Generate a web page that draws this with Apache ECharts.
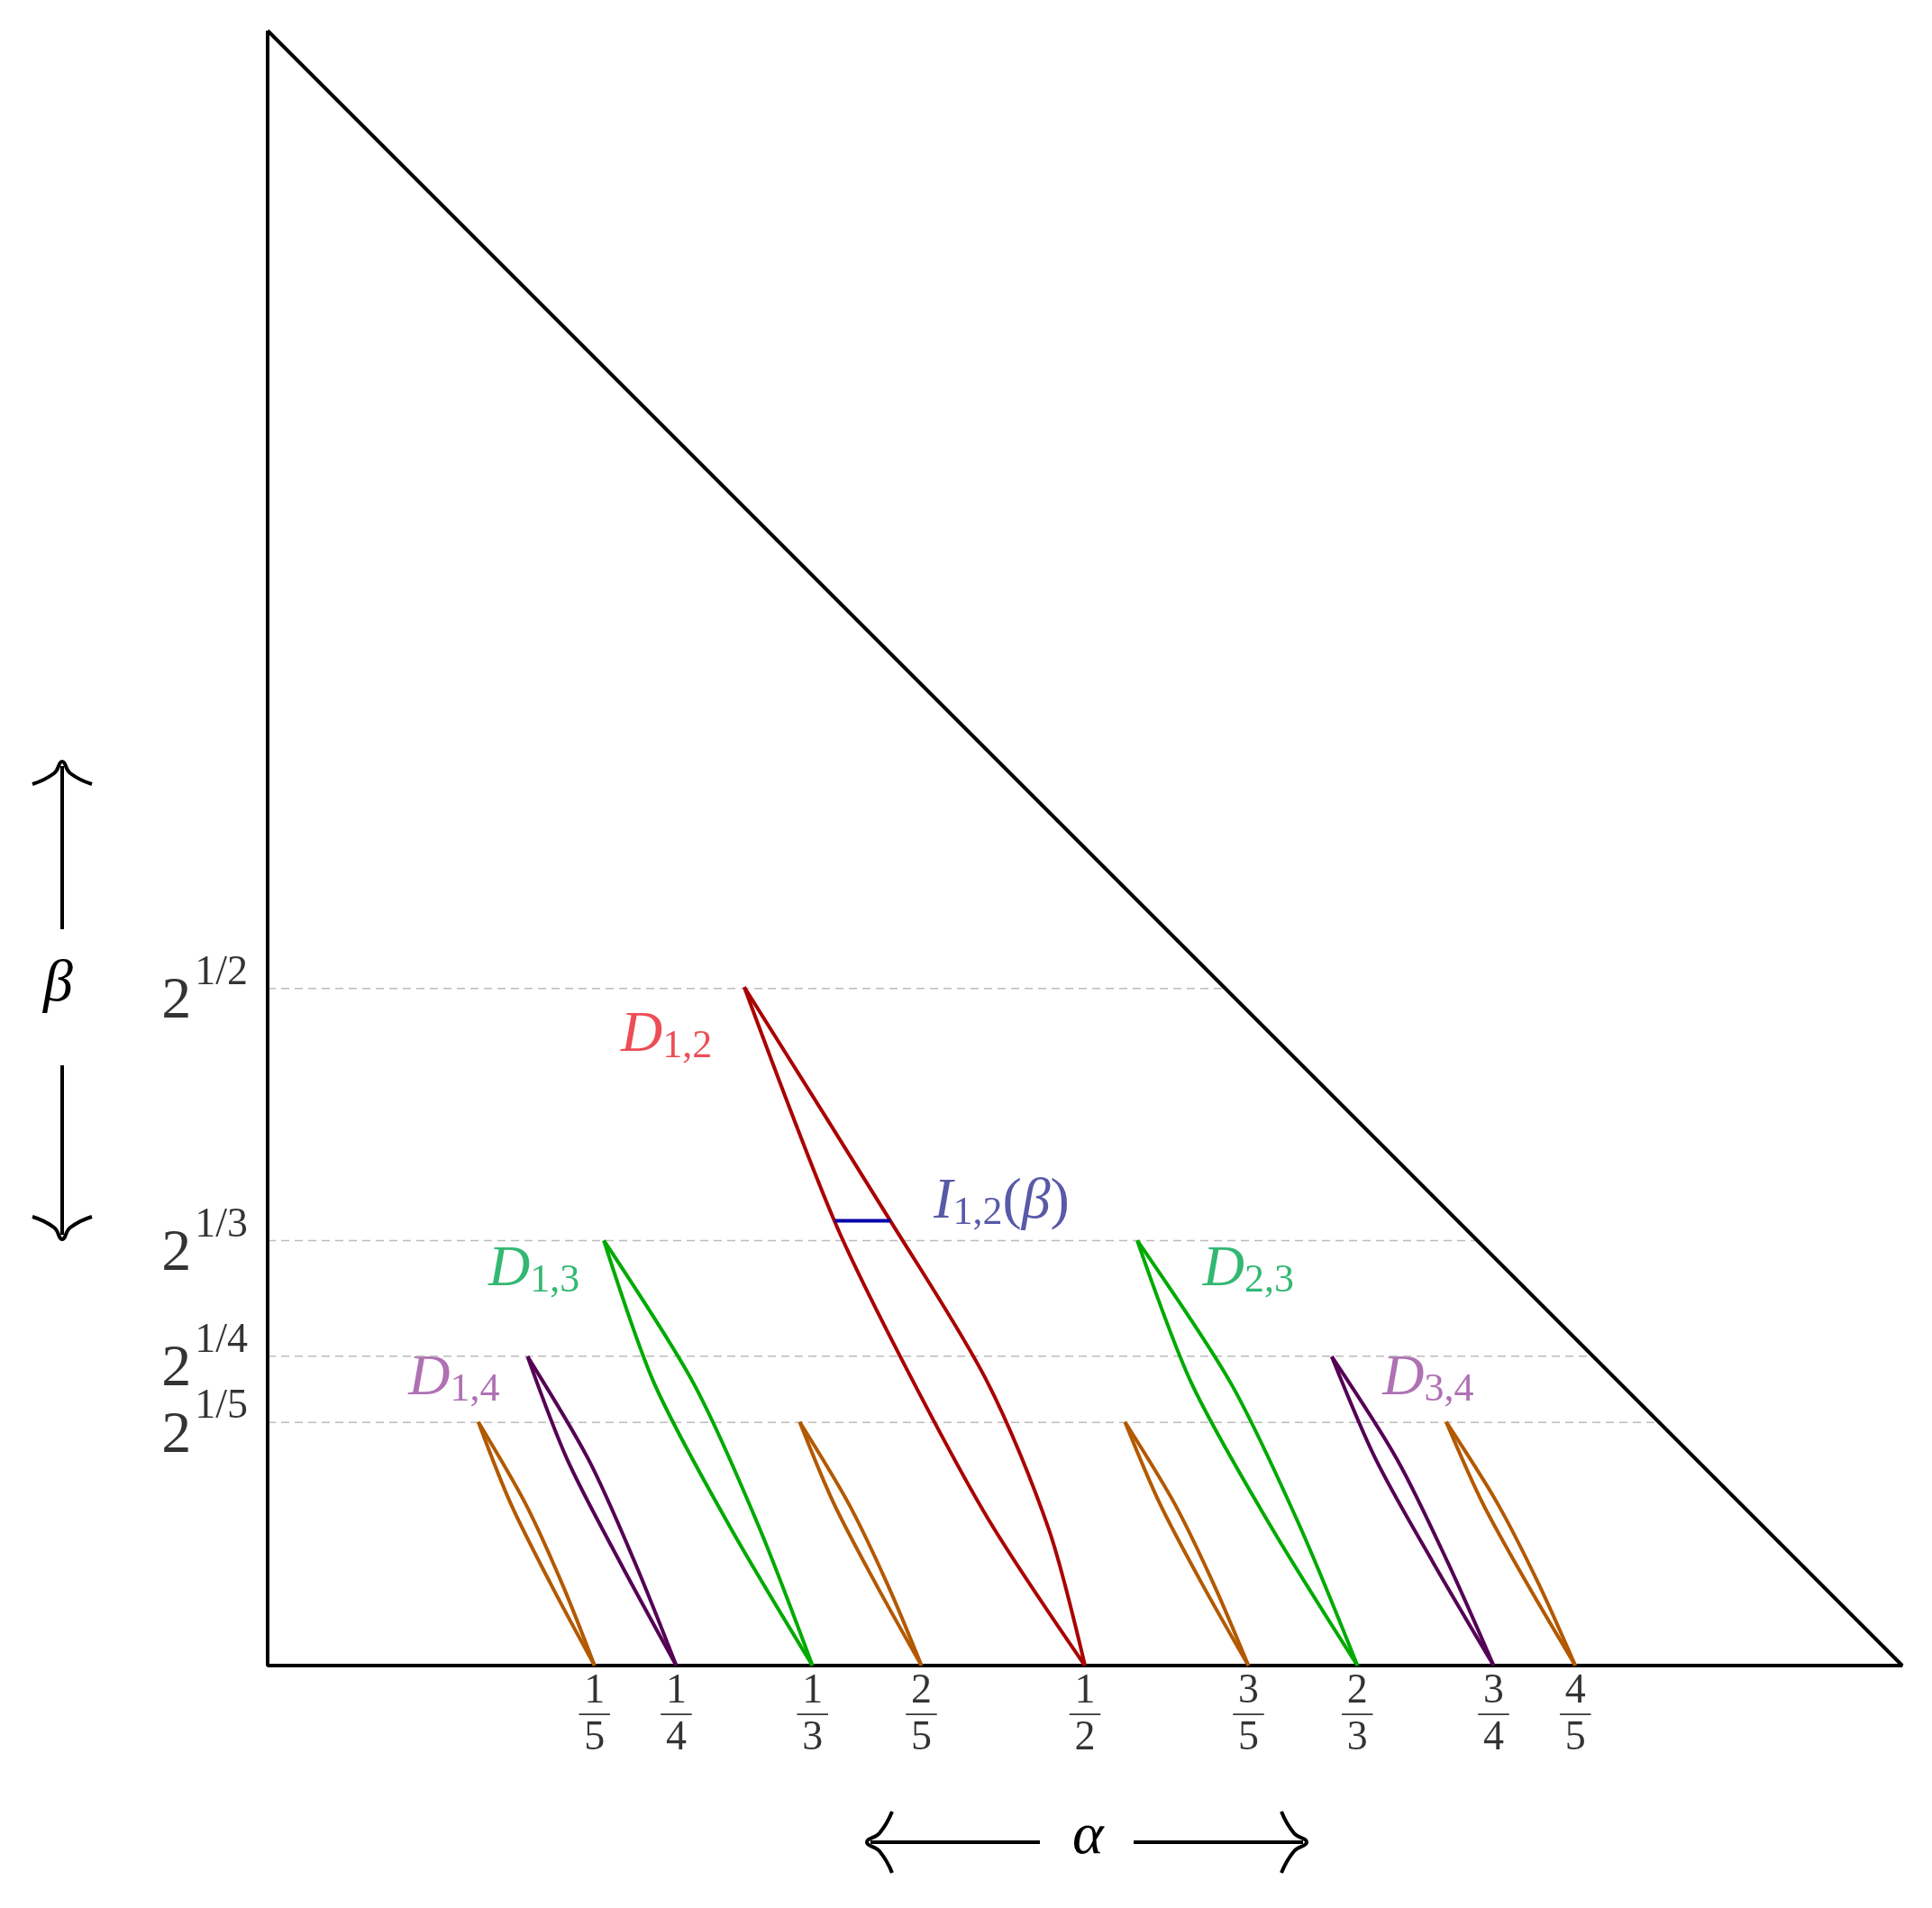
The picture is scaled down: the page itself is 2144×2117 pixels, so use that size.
<!DOCTYPE html>
<html>
<head>
<meta charset="utf-8">
<title>Lenses</title>
<script src="https://cdn.jsdelivr.net/npm/echarts@6/dist/echarts.min.js"></script>
<style>html,body{margin:0;padding:0;background:#fff}#main{width:2144px;height:2117px}</style>
</head>
<body>
<div id="main"></div>
<script>
// triangle outline
var triangle = [[0, 2], [0, 1], [1, 1], [0, 2]];
// dashed levels beta = 2^(1/q)
var levelBeta = [1.4142, 1.2599, 1.1892, 1.1487];
var levelText = ['1/2', '1/3', '1/4', '1/5'];
// x tick fractions
var fracNum = [1, 1, 1, 2, 1, 3, 2, 3, 4];
var fracDen = [5, 4, 3, 5, 2, 5, 3, 4, 5];
// lens curves [alpha, beta]
var lenses = [
  {color: '#aa0000',
   left: [[0.2916, 1.415], [0.3467, 1.272], [0.387, 1.189], [0.440, 1.091], [0.5, 1]],
   right: [[0.2916, 1.415], [0.381, 1.272], [0.440, 1.174], [0.478, 1.083], [0.5, 1]]},
  {color: '#00aa00',
   left: [[0.2057, 1.26], [0.2362, 1.1733], [0.2818, 1.0867], [0.3333, 1]],
   right: [[0.2057, 1.26], [0.2602, 1.1733], [0.2998, 1.0867], [0.3333, 1]]},
  {color: '#00aa00',
   left: [[0.532, 1.26], [0.5649, 1.1733], [0.6128, 1.0867], [0.6667, 1]],
   right: [[0.532, 1.26], [0.5889, 1.1733], [0.6308, 1.0867], [0.6667, 1]]},
  {color: '#550055',
   left: [[0.159, 1.189], [0.1833, 1.126], [0.2157, 1.063], [0.25, 1]],
   right: [[0.159, 1.189], [0.1963, 1.126], [0.2247, 1.063], [0.25, 1]]},
  {color: '#550055',
   left: [[0.651, 1.189], [0.678, 1.126], [0.713, 1.063], [0.75, 1]],
   right: [[0.651, 1.189], [0.691, 1.126], [0.722, 1.063], [0.75, 1]]},
  {color: '#b35900',
   left: [[0.1289, 1.149], [0.1486, 1.0993], [0.1733, 1.0497], [0.2, 1]],
   right: [[0.1289, 1.149], [0.1576, 1.0993], [0.1803, 1.0497], [0.2, 1]]},
  {color: '#b35900',
   left: [[0.3255, 1.149], [0.3463, 1.0993], [0.3722, 1.0497], [0.4, 1]],
   right: [[0.3255, 1.149], [0.3553, 1.0993], [0.3792, 1.0497], [0.4, 1]]},
  {color: '#b35900',
   left: [[0.5245, 1.149], [0.5457, 1.0993], [0.5718, 1.0497], [0.6, 1]],
   right: [[0.5245, 1.149], [0.5547, 1.0993], [0.5788, 1.0497], [0.6, 1]]},
  {color: '#b35900',
   left: [[0.721, 1.149], [0.7433, 1.0993], [0.7707, 1.0497], [0.8, 1]],
   right: [[0.721, 1.149], [0.7523, 1.0993], [0.7777, 1.0497], [0.8, 1]]}
];
// region labels
var regionLabels = [
  {pos: [0.244, 1.385], sub: '1,2', color: '#e8202a'},
  {pos: [0.163, 1.242], sub: '1,3', color: '#00a651'},
  {pos: [0.600, 1.242], sub: '2,3', color: '#00a651'},
  {pos: [0.114, 1.175], sub: '1,4', color: '#9b4ea0'},
  {pos: [0.710, 1.175], sub: '3,4', color: '#9b4ea0'}
];
var segI = [[0.347, 1.272], [0.381, 1.272]];

var serif = 'Liberation Serif';
var chart = echarts.init(document.getElementById('main'));
var series = [];

levelBeta.forEach(function (b) {
  series.push({type: 'line', data: [[0, b], [2 - b, b]], symbol: 'none', silent: true,
    lineStyle: {color: '#bbb', width: 1.5, type: [9, 6]}});
});
series.push({type: 'line', data: triangle, symbol: 'none',
  lineStyle: {color: '#000', width: 4}});
lenses.forEach(function (l) {
  ['left', 'right'].forEach(function (k) {
    series.push({type: 'line', data: l[k], smooth: 0.3, symbol: 'none',
      lineStyle: {color: l.color, width: 4}});
  });
});
series.push({type: 'line', data: segI, symbol: 'none', lineStyle: {color: '#0000aa', width: 4}});

// tick fractions
series.push({type: 'scatter', symbolSize: 0,
  data: fracNum.map(function (n, i) { return [n / fracDen[i], 1]; }),
  label: {show: true, position: 'bottom', distance: 10, color: '#000',
    formatter: function (p) {
      var i = p.dataIndex;
      return '{n|' + fracNum[i] + '}\n{l|—}\n{d|' + fracDen[i] + '}';
    },
    rich: {
      n: {fontFamily: serif, fontSize: 46, lineHeight: 38, color: '#000'},
      l: {fontFamily: serif, fontSize: 34, lineHeight: 10, color: '#000'},
      d: {fontFamily: serif, fontSize: 46, lineHeight: 46, color: '#000'}
    }}});
// beta tick labels
series.push({type: 'scatter', symbolSize: 0,
  data: levelBeta.map(function (b) { return [0, b]; }),
  label: {show: true, position: 'left', distance: 22, color: '#000',
    formatter: function (p) { return '{b|2}{s|' + levelText[p.dataIndex] + '}'; },
    rich: {
      b: {fontFamily: serif, fontSize: 66, color: '#000', padding: [30, 0, 0, 0]},
      s: {fontFamily: serif, fontSize: 46, color: '#000', padding: [0, 0, 34, 4]}
    }}});
// region labels
regionLabels.forEach(function (r) {
  series.push({type: 'scatter', symbolSize: 0, data: [r.pos],
    label: {show: true, position: 'inside', color: r.color,
      formatter: '{D|D}{s|' + r.sub + '}',
      rich: {
        D: {fontFamily: serif, fontStyle: 'italic', fontSize: 64, color: r.color},
        s: {fontFamily: serif, fontSize: 44, color: r.color, padding: [24, 0, 0, 0]}
      }}});
});
series.push({type: 'scatter', symbolSize: 0, data: [[0.449, 1.283]],
  label: {show: true, position: 'inside', color: '#2e3192',
    formatter: '{D|I}{s|1,2}{p|(}{D|β}{p|)}',
    rich: {
      D: {fontFamily: serif, fontStyle: 'italic', fontSize: 64, color: '#2e3192'},
      p: {fontFamily: serif, fontSize: 64, color: '#2e3192'},
      s: {fontFamily: serif, fontSize: 44, color: '#2e3192', padding: [24, 0, 0, 0]}
    }}});

var ah = {type: 'polyline', style: {fill: null, stroke: '#000', lineWidth: 4}};
function arrowHead(points) { return echarts.util.merge({shape: {points: points, smooth: 0.5}}, ah, true); }

chart.setOption({
  animation: false,
  grid: {left: 297, right: 33, top: 34, bottom: 269},
  xAxis: {type: 'value', min: 0, max: 1, show: false},
  yAxis: {type: 'value', min: 1, max: 2, show: false},
  series: series,
  graphic: [
    {type: 'line', shape: {x1: 69, y1: 850, x2: 69, y2: 1031}, style: {stroke: '#000', lineWidth: 4}},
    arrowHead([[36, 870], [60, 858], [69, 845], [78, 858], [102, 870]]),
    {type: 'text', left: 48, top: 1060, style: {text: 'β', font: 'italic 66px "Liberation Serif"', fill: '#000'}},
    {type: 'line', shape: {x1: 69, y1: 1182, x2: 69, y2: 1370}, style: {stroke: '#000', lineWidth: 4}},
    arrowHead([[36, 1350], [60, 1362], [69, 1375], [78, 1362], [102, 1350]]),
    {type: 'line', shape: {x1: 966, y1: 2044, x2: 1154, y2: 2044}, style: {stroke: '#000', lineWidth: 4}},
    arrowHead([[990, 2010], [976, 2034], [962, 2044], [976, 2054], [990, 2078]]),
    {type: 'text', left: 1190, top: 2006, style: {text: 'α', font: 'italic 66px "Liberation Serif"', fill: '#000'}},
    {type: 'line', shape: {x1: 1258, y1: 2044, x2: 1446, y2: 2044}, style: {stroke: '#000', lineWidth: 4}},
    arrowHead([[1422, 2010], [1436, 2034], [1450, 2044], [1436, 2054], [1422, 2078]])
  ]
});
</script>
</body>
</html>
